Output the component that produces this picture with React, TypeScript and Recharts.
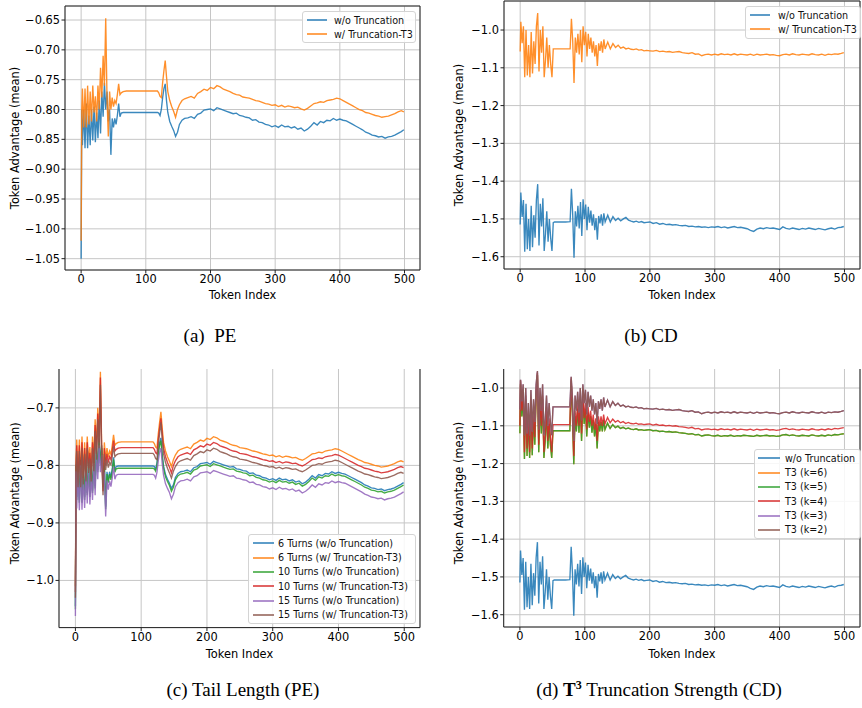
import React from 'react';
import { LineChart, Line, XAxis, YAxis, CartesianGrid, ReferenceArea } from 'recharts';

// ---------- shared ----------
const X_TICKS = [0, 100, 200, 300, 400, 500];
const X_DOMAIN: [number, number] = [-24.95, 523.95];

// ---------- PE token grid (panels a, c) ----------
const PE_TOKENS = [
  0, 1, 2, 4, 6, 8, 10, 12,
  14, 16, 18, 20, 22, 24, 26, 28,
  30, 32, 34, 36, 38, 40, 42, 44,
  46, 48, 50, 52, 54, 56, 58, 60,
  62, 65, 70, 80, 90, 100, 110, 118,
  120, 122, 124, 126, 128, 130, 132, 134,
  137, 140, 143, 146, 149, 152, 156, 160,
  165, 170, 175, 180, 185, 190, 195, 200, 205, 210,
  215, 220, 225, 230, 235, 240, 245, 250, 255, 260,
  265, 270, 275, 280, 285, 290, 295, 300, 305, 310,
  315, 320, 325, 330, 335, 340, 345, 350, 355, 360,
  365, 370, 375, 380, 385, 390, 395, 400, 405, 410,
  415, 420, 425, 430, 435, 440, 445, 450, 455, 460,
  465, 470, 475, 480, 485, 490, 495, 499,
];

// 10 turns without truncation (panel a blue, panel c green)
const PE10_WO = [
  -1.050, -0.800, -0.860, -0.800, -0.865, -0.790, -0.865, -0.810,
  -0.860, -0.800, -0.852, -0.795, -0.855, -0.805, -0.848, -0.785,
  -0.840, -0.770, -0.812, -0.755, -0.800, -0.770, -0.820, -0.800,
  -0.876, -0.815, -0.830, -0.815, -0.825, -0.810, -0.790, -0.812,
  -0.806, -0.805, -0.805, -0.805, -0.805, -0.805, -0.805, -0.805,
  -0.806, -0.810, -0.800, -0.780, -0.765, -0.757, -0.785, -0.805,
  -0.820, -0.828, -0.835, -0.845, -0.838, -0.825, -0.818, -0.815,
  -0.814, -0.812, -0.815, -0.808, -0.806, -0.801, -0.800, -0.799, -0.802, -0.797,
  -0.799, -0.801, -0.803, -0.805, -0.807, -0.806, -0.810, -0.811, -0.813, -0.814,
  -0.818, -0.817, -0.821, -0.822, -0.825, -0.826, -0.829, -0.827, -0.830, -0.826,
  -0.829, -0.828, -0.831, -0.829, -0.833, -0.831, -0.836, -0.833, -0.828, -0.822,
  -0.826, -0.820, -0.822, -0.818, -0.819, -0.815, -0.818, -0.816, -0.818, -0.819,
  -0.822, -0.825, -0.828, -0.831, -0.834, -0.838, -0.840, -0.843, -0.844, -0.846,
  -0.845, -0.848, -0.846, -0.845, -0.843, -0.840, -0.837, -0.834,
];

// 10 turns with Truncation-T3 (panel a orange, panel c red)
const PE10_W = [
  -1.020, -0.800, -0.765, -0.830, -0.765, -0.830, -0.760, -0.825,
  -0.770, -0.820, -0.760, -0.805, -0.778, -0.820, -0.760, -0.800,
  -0.730, -0.780, -0.710, -0.760, -0.647, -0.780, -0.845, -0.770,
  -0.800, -0.780, -0.795, -0.785, -0.790, -0.775, -0.757, -0.775,
  -0.772, -0.770, -0.769, -0.769, -0.769, -0.769, -0.769, -0.769,
  -0.772, -0.778, -0.780, -0.755, -0.735, -0.718, -0.745, -0.770,
  -0.785, -0.795, -0.803, -0.813, -0.800, -0.792, -0.785, -0.782,
  -0.780, -0.778, -0.781, -0.773, -0.770, -0.766, -0.768, -0.763, -0.765, -0.760,
  -0.762, -0.766, -0.768, -0.770, -0.773, -0.775, -0.776, -0.779, -0.780, -0.781,
  -0.783, -0.785, -0.786, -0.788, -0.790, -0.791, -0.793, -0.792, -0.795, -0.793,
  -0.796, -0.794, -0.795, -0.797, -0.796, -0.799, -0.801, -0.798, -0.794, -0.790,
  -0.789, -0.787, -0.788, -0.785, -0.784, -0.783, -0.781, -0.782, -0.785, -0.788,
  -0.791, -0.794, -0.797, -0.800, -0.802, -0.805, -0.806, -0.808, -0.810, -0.811,
  -0.813, -0.812, -0.811, -0.809, -0.807, -0.804, -0.802, -0.804,
];

// 6 turns without truncation
const PE6_WO = [
  -1.045, -0.798, -0.855, -0.796, -0.860, -0.786, -0.860, -0.806,
  -0.855, -0.796, -0.848, -0.791, -0.850, -0.801, -0.844, -0.781,
  -0.836, -0.766, -0.808, -0.752, -0.796, -0.765, -0.816, -0.796,
  -0.872, -0.811, -0.826, -0.811, -0.821, -0.806, -0.786, -0.808,
  -0.802, -0.801, -0.801, -0.801, -0.801, -0.801, -0.801, -0.801,
  -0.802, -0.806, -0.796, -0.776, -0.761, -0.752, -0.781, -0.801,
  -0.816, -0.824, -0.831, -0.840, -0.834, -0.821, -0.814, -0.811,
  -0.810, -0.808, -0.811, -0.804, -0.802, -0.797, -0.796, -0.795, -0.798, -0.793,
  -0.795, -0.797, -0.799, -0.801, -0.803, -0.802, -0.806, -0.807, -0.809, -0.810,
  -0.814, -0.813, -0.817, -0.818, -0.821, -0.822, -0.825, -0.823, -0.826, -0.822,
  -0.825, -0.824, -0.827, -0.825, -0.829, -0.827, -0.832, -0.829, -0.824, -0.818,
  -0.822, -0.816, -0.818, -0.814, -0.815, -0.811, -0.814, -0.812, -0.814, -0.815,
  -0.818, -0.821, -0.824, -0.827, -0.830, -0.834, -0.836, -0.839, -0.840, -0.842,
  -0.841, -0.844, -0.842, -0.841, -0.839, -0.836, -0.833, -0.830,
];

// 6 turns with Truncation-T3
const PE6_W = [
  -1.010, -0.795, -0.755, -0.822, -0.755, -0.822, -0.750, -0.817,
  -0.760, -0.812, -0.750, -0.797, -0.768, -0.812, -0.750, -0.790,
  -0.720, -0.770, -0.700, -0.750, -0.637, -0.770, -0.838, -0.760,
  -0.792, -0.770, -0.786, -0.775, -0.781, -0.765, -0.747, -0.765,
  -0.762, -0.760, -0.759, -0.759, -0.759, -0.759, -0.759, -0.759,
  -0.762, -0.768, -0.770, -0.745, -0.725, -0.707, -0.735, -0.760,
  -0.775, -0.785, -0.793, -0.802, -0.790, -0.782, -0.775, -0.772,
  -0.770, -0.768, -0.771, -0.763, -0.760, -0.756, -0.758, -0.753, -0.755, -0.750,
  -0.752, -0.756, -0.758, -0.760, -0.763, -0.765, -0.766, -0.769, -0.770, -0.771,
  -0.773, -0.775, -0.776, -0.778, -0.780, -0.781, -0.783, -0.782, -0.785, -0.783,
  -0.786, -0.784, -0.785, -0.787, -0.786, -0.789, -0.791, -0.788, -0.784, -0.780,
  -0.779, -0.777, -0.778, -0.775, -0.774, -0.773, -0.771, -0.772, -0.775, -0.778,
  -0.781, -0.784, -0.787, -0.790, -0.792, -0.795, -0.796, -0.798, -0.800, -0.801,
  -0.803, -0.802, -0.801, -0.799, -0.797, -0.794, -0.792, -0.794,
];

// 15 turns without truncation
const PE15_WO = [
  -1.062, -0.810, -0.875, -0.812, -0.878, -0.800, -0.877, -0.822,
  -0.874, -0.812, -0.866, -0.806, -0.868, -0.816, -0.860, -0.796,
  -0.852, -0.780, -0.824, -0.765, -0.812, -0.782, -0.832, -0.812,
  -0.889, -0.826, -0.842, -0.827, -0.837, -0.822, -0.802, -0.824,
  -0.817, -0.8155, -0.8155, -0.8155, -0.8155, -0.8155, -0.8155, -0.8155,
  -0.817, -0.822, -0.812, -0.792, -0.777, -0.770, -0.797, -0.817,
  -0.832, -0.840, -0.847, -0.858, -0.850, -0.837, -0.830, -0.827,
  -0.826, -0.824, -0.827, -0.820, -0.818, -0.813, -0.812, -0.811, -0.814, -0.809,
  -0.811, -0.813, -0.815, -0.817, -0.819, -0.818, -0.822, -0.823, -0.825, -0.826,
  -0.830, -0.829, -0.833, -0.834, -0.837, -0.838, -0.841, -0.839, -0.842, -0.838,
  -0.841, -0.840, -0.843, -0.841, -0.845, -0.843, -0.848, -0.845, -0.840, -0.834,
  -0.838, -0.832, -0.834, -0.830, -0.831, -0.827, -0.830, -0.828, -0.830, -0.831,
  -0.834, -0.837, -0.840, -0.843, -0.846, -0.850, -0.852, -0.855, -0.856, -0.858,
  -0.857, -0.860, -0.858, -0.857, -0.855, -0.852, -0.849, -0.846,
];

// 15 turns with Truncation-T3
const PE15_W = [
  -1.030, -0.805, -0.775, -0.838, -0.775, -0.838, -0.770, -0.833,
  -0.780, -0.828, -0.770, -0.813, -0.788, -0.828, -0.770, -0.810,
  -0.740, -0.790, -0.720, -0.770, -0.660, -0.790, -0.852, -0.780,
  -0.808, -0.790, -0.804, -0.795, -0.799, -0.785, -0.767, -0.785,
  -0.782, -0.780, -0.779, -0.779, -0.779, -0.779, -0.779, -0.779,
  -0.782, -0.788, -0.790, -0.765, -0.745, -0.725, -0.755, -0.780,
  -0.795, -0.805, -0.813, -0.822, -0.810, -0.802, -0.795, -0.792,
  -0.790, -0.788, -0.791, -0.783, -0.780, -0.776, -0.778, -0.773, -0.775, -0.770,
  -0.772, -0.776, -0.778, -0.780, -0.783, -0.785, -0.786, -0.789, -0.790, -0.791,
  -0.793, -0.795, -0.796, -0.798, -0.800, -0.801, -0.803, -0.802, -0.805, -0.803,
  -0.806, -0.804, -0.805, -0.807, -0.806, -0.809, -0.811, -0.808, -0.804, -0.800,
  -0.799, -0.797, -0.798, -0.795, -0.794, -0.793, -0.791, -0.792, -0.795, -0.798,
  -0.801, -0.804, -0.807, -0.810, -0.812, -0.815, -0.816, -0.818, -0.820, -0.821,
  -0.823, -0.822, -0.821, -0.819, -0.817, -0.814, -0.812, -0.814,
];

// ---------- CD token grid (panels b, d) ----------
const CD_TOKENS = [
  0, 1, 3, 5, 7, 9, 11, 13, 15,
  17, 19, 21, 23, 25, 27, 29, 31, 33,
  35, 37, 39, 41, 43, 45, 47, 49, 51,
  53, 60, 70, 77,
  79, 81, 83, 85, 87, 89, 91, 93, 95,
  97, 99, 101, 103, 105, 107, 109, 111, 113,
  115, 117, 119, 121, 123, 125, 127, 129, 131,
  135, 139, 143, 147, 151, 155, 159, 163,
  167, 171, 175, 179, 183, 187, 191, 195,
  200, 205, 210, 215, 220, 225, 230, 235, 240, 245,
  250, 255, 260, 265, 270, 275, 280, 285, 290, 295,
  300, 305, 310, 315, 320, 325, 330, 335, 340, 345,
  350, 355, 360, 365, 370, 375, 380, 385, 390, 395,
  400, 405, 410, 415, 420, 425, 430, 435, 440, 445,
  450, 455, 460, 465, 470, 475, 480, 485, 490, 495,
  499,
];

const CD_WO = [
  -1.515, -1.430, -1.495, -1.450, -1.587, -1.460, -1.580, -1.500, -1.585,
  -1.465, -1.575, -1.490, -1.550, -1.450, -1.408, -1.570, -1.460, -1.520,
  -1.445, -1.585, -1.540, -1.480, -1.560, -1.500, -1.550, -1.585, -1.510,
  -1.508, -1.508, -1.508, -1.507,
  -1.420, -1.490, -1.603, -1.480, -1.520, -1.465, -1.525, -1.455, -1.545,
  -1.448, -1.500, -1.462, -1.530, -1.468, -1.510, -1.478, -1.518, -1.488,
  -1.530, -1.498, -1.555, -1.492, -1.512, -1.488, -1.518, -1.485, -1.508,
  -1.490, -1.508, -1.494, -1.504, -1.498, -1.505, -1.500, -1.496,
  -1.503, -1.506, -1.508, -1.506, -1.509, -1.507, -1.510, -1.509,
  -1.508, -1.512, -1.510, -1.514, -1.512, -1.515, -1.514, -1.516, -1.515, -1.517,
  -1.518, -1.517, -1.520, -1.519, -1.521, -1.520, -1.522, -1.521, -1.523, -1.521,
  -1.522, -1.520, -1.523, -1.521, -1.524, -1.522, -1.520, -1.523, -1.522, -1.524,
  -1.526, -1.530, -1.533, -1.527, -1.524, -1.526, -1.523, -1.525, -1.524, -1.526,
  -1.528, -1.521, -1.525, -1.527, -1.524, -1.526, -1.528, -1.525, -1.527, -1.524,
  -1.526, -1.528, -1.525, -1.527, -1.529, -1.526, -1.524, -1.527, -1.523, -1.522,
  -1.520,
];

const CD_T3 = [
  -1.057, -0.978, -1.035, -0.990, -1.125, -1.000, -1.120, -1.040, -1.125,
  -1.005, -1.115, -1.030, -1.090, -0.990, -0.955, -1.110, -1.000, -1.060,
  -0.990, -1.125, -1.080, -1.020, -1.100, -1.040, -1.090, -1.125, -1.050,
  -1.050, -1.050, -1.050, -1.050,
  -0.970, -1.030, -1.140, -1.020, -1.060, -1.010, -1.065, -1.000, -1.085,
  -0.990, -1.040, -1.005, -1.070, -1.010, -1.050, -1.020, -1.060, -1.030,
  -1.070, -1.040, -1.095, -1.035, -1.055, -1.030, -1.060, -1.025, -1.050,
  -1.032, -1.050, -1.036, -1.046, -1.040, -1.048, -1.045, -1.050,
  -1.048, -1.051, -1.052, -1.050, -1.053, -1.052, -1.055, -1.054,
  -1.055, -1.056, -1.054, -1.057, -1.056, -1.058, -1.057, -1.059, -1.058, -1.057,
  -1.060, -1.061, -1.062, -1.060, -1.064, -1.063, -1.068, -1.065, -1.064, -1.066,
  -1.064, -1.066, -1.063, -1.065, -1.064, -1.066, -1.063, -1.066, -1.064, -1.065,
  -1.066, -1.064, -1.067, -1.064, -1.066, -1.065, -1.064, -1.066, -1.065, -1.067,
  -1.068, -1.065, -1.064, -1.066, -1.063, -1.065, -1.066, -1.064, -1.065, -1.066,
  -1.063, -1.065, -1.066, -1.064, -1.067, -1.064, -1.065, -1.063, -1.064, -1.062,
  -1.060,
];

const CD_K4 = [
  -1.100, -0.980, -1.060, -1.010, -1.170, -1.020, -1.160, -1.070, -1.170,
  -1.030, -1.160, -1.060, -1.130, -1.010, -0.960, -1.150, -1.030, -1.100,
  -1.020, -1.170, -1.120, -1.050, -1.140, -1.080, -1.130, -1.170, -1.097,
  -1.097, -1.097, -1.097, -1.097,
  -0.975, -1.060, -1.180, -1.060, -1.100, -1.040, -1.100, -1.030, -1.120,
  -1.020, -1.080, -1.040, -1.110, -1.050, -1.090, -1.060, -1.100, -1.070,
  -1.110, -1.080, -1.140, -1.075, -1.100, -1.075, -1.100, -1.070, -1.095,
  -1.078, -1.092, -1.082, -1.090, -1.086, -1.092, -1.089, -1.094,
  -1.091, -1.094, -1.095, -1.093, -1.096, -1.095, -1.097, -1.096,
  -1.095, -1.098, -1.096, -1.099, -1.098, -1.100, -1.099, -1.101, -1.100, -1.102,
  -1.103, -1.104, -1.106, -1.104, -1.108, -1.107, -1.111, -1.109, -1.108, -1.110,
  -1.109, -1.111, -1.108, -1.110, -1.109, -1.111, -1.108, -1.111, -1.109, -1.110,
  -1.111, -1.109, -1.112, -1.109, -1.111, -1.110, -1.109, -1.111, -1.110, -1.112,
  -1.111, -1.108, -1.107, -1.110, -1.108, -1.110, -1.111, -1.109, -1.110, -1.111,
  -1.108, -1.110, -1.111, -1.109, -1.111, -1.108, -1.110, -1.107, -1.108, -1.106,
  -1.105,
];

const CD_K5 = [
  -1.120, -0.990, -1.075, -1.020, -1.188, -1.030, -1.180, -1.085, -1.185,
  -1.040, -1.178, -1.075, -1.150, -1.020, -0.965, -1.170, -1.040, -1.120,
  -1.030, -1.185, -1.140, -1.060, -1.160, -1.095, -1.150, -1.185, -1.113,
  -1.113, -1.113, -1.113, -1.113,
  -0.980, -1.075, -1.202, -1.075, -1.115, -1.055, -1.118, -1.045, -1.140,
  -1.030, -1.095, -1.055, -1.128, -1.065, -1.105, -1.075, -1.118, -1.085,
  -1.128, -1.095, -1.160, -1.090, -1.115, -1.090, -1.115, -1.085, -1.110,
  -1.093, -1.107, -1.097, -1.105, -1.101, -1.107, -1.104, -1.108,
  -1.106, -1.109, -1.110, -1.108, -1.111, -1.110, -1.112, -1.111,
  -1.110, -1.113, -1.112, -1.115, -1.114, -1.116, -1.115, -1.117, -1.116, -1.118,
  -1.119, -1.120, -1.122, -1.121, -1.124, -1.123, -1.127, -1.125, -1.124, -1.126,
  -1.127, -1.125, -1.128, -1.126, -1.127, -1.125, -1.128, -1.126, -1.127, -1.125,
  -1.126, -1.127, -1.128, -1.125, -1.127, -1.126, -1.125, -1.127, -1.126, -1.128,
  -1.127, -1.124, -1.123, -1.126, -1.124, -1.126, -1.127, -1.125, -1.126, -1.127,
  -1.124, -1.126, -1.127, -1.125, -1.127, -1.124, -1.126, -1.123, -1.124, -1.122,
  -1.121,
];

// ---------- tick labels ----------
const Y_TICKS_A = [-1.05, -1.0, -0.95, -0.9, -0.85, -0.8, -0.75, -0.7, -0.65];
const Y_TICKS_CD = [-1.6, -1.5, -1.4, -1.3, -1.2, -1.1, -1.0];
const Y_TICKS_C = [-1.0, -0.9, -0.8, -0.7];

const BLUE = '#1f77b4';
const ORANGE = '#ff7f0e';
const GREEN = '#2ca02c';
const RED = '#d62728';
const PURPLE = '#9467bd';
const BROWN = '#8c564b';

const FONT = '"DejaVu Sans", Verdana, sans-serif';

type Series = { key: string; name: string; color: string; values: number[] };

type PanelProps = {
  left: number;
  top: number;
  width: number;
  height: number;
  yAxisW: number;
  tokens: number[];
  series: Series[];
  yDomain: [number, number];
  yTicks: number[];
  dec: number;
  yLabelOffset: number;
  xLabelOffset: number;
};

function Panel(p: PanelProps) {
  const data = p.tokens.map((t, i) => {
    const row: Record<string, number> = { t };
    p.series.forEach((s) => {
      row[s.key] = s.values[i];
    });
    return row;
  });
  const tickStyle = { fill: '#000', fontSize: 11.4, fontFamily: FONT };
  return (
    <div style={{ position: 'absolute', left: p.left, top: p.top }}>
      <LineChart width={p.width} height={p.height} data={data} margin={{ top: 5, right: 2, bottom: 0, left: 0 }}>
        <CartesianGrid stroke="#c6c6c6" strokeWidth={1} />
        <XAxis
          dataKey="t"
          type="number"
          domain={X_DOMAIN}
          ticks={X_TICKS}
          interval={0}
          allowDataOverflow
          height={40}
          axisLine={false}
          tickSize={3.5}
          tickMargin={1.5}
          tickLine={{ stroke: '#222' }}
          tick={tickStyle}
          label={{ value: 'Token Index', position: 'insideBottom', offset: p.xLabelOffset, style: { fill: '#000', fontSize: 11.4, fontFamily: FONT } }}
        />
        <YAxis
          type="number"
          domain={p.yDomain}
          ticks={p.yTicks}
          interval={0}
          allowDataOverflow
          width={p.yAxisW}
          axisLine={false}
          tickSize={3.5}
          tickMargin={1.5}
          tickLine={{ stroke: '#222' }}
          tick={tickStyle}
          tickFormatter={(v: number) => v.toFixed(p.dec).replace('-', '\u2212')}
          label={{
            value: 'Token Advantage (mean)',
            angle: -90,
            position: 'insideLeft',
            offset: p.yLabelOffset,
            style: { textAnchor: 'middle', fill: '#000', fontSize: 11.4, fontFamily: FONT },
          }}
        />
        {p.series.map((s) => (
          <Line
            key={s.key}
            type="linear"
            dataKey={s.key}
            name={s.name}
            stroke={s.color}
            strokeOpacity={0.88}
            strokeWidth={1.35}
            dot={false}
            activeDot={false}
            isAnimationActive={false}
          />
        ))}
        <ReferenceArea
          x1={X_DOMAIN[0]}
          x2={X_DOMAIN[1]}
          y1={p.yDomain[0]}
          y2={p.yDomain[1]}
          fill="none"
          fillOpacity={0}
          stroke="#222"
          strokeWidth={1}
          ifOverflow="visible"
        />
      </LineChart>
    </div>
  );
}

type LegendProps = {
  left: number;
  top: number;
  width: number;
  rowH: number;
  padTop: number;
  padLeft: number;
  sampleW: number;
  gap: number;
  series: Series[];
};

function LegendBox(l: LegendProps) {
  return (
    <div
      style={{
        position: 'absolute',
        left: l.left,
        top: l.top,
        width: l.width,
        boxSizing: 'border-box',
        paddingTop: l.padTop,
        paddingBottom: 1,
        paddingLeft: l.padLeft,
        border: '1px solid #d4d4d4',
        borderRadius: 3,
        background: 'rgba(255,255,255,0.85)',
        fontFamily: FONT,
        fontSize: 9.6,
        color: '#111',
      }}
    >
      {l.series.map((s) => (
        <div key={s.key} style={{ display: 'flex', alignItems: 'center', height: l.rowH, whiteSpace: 'nowrap' }}>
          <svg width={l.sampleW} height={6} style={{ marginRight: l.gap, flex: 'none' }}>
            <line x1={0} y1={3} x2={l.sampleW} y2={3} stroke={s.color} strokeWidth={1.6} strokeOpacity={0.9} />
          </svg>
          <span>{s.name}</span>
        </div>
      ))}
    </div>
  );
}

const captionStyle: React.CSSProperties = {
  position: 'absolute',
  width: 400,
  textAlign: 'center',
  fontFamily: '"Liberation Serif", "Times New Roman", serif',
  fontSize: 19,
  lineHeight: '22px',
  color: '#000',
  whiteSpace: 'pre',
};

export default function App() {
  const seriesA: Series[] = [
    { key: 'wo', name: 'w/o Truncation', color: BLUE, values: PE10_WO },
    { key: 'w', name: 'w/ Truncation-T3', color: ORANGE, values: PE10_W },
  ];
  const seriesB: Series[] = [
    { key: 'wo', name: 'w/o Truncation', color: BLUE, values: CD_WO },
    { key: 'w', name: 'w/ Truncation-T3', color: ORANGE, values: CD_T3 },
  ];
  const seriesC: Series[] = [
    { key: 's6wo', name: '6 Turns (w/o Truncation)', color: BLUE, values: PE6_WO },
    { key: 's6w', name: '6 Turns (w/ Truncation-T3)', color: ORANGE, values: PE6_W },
    { key: 's10wo', name: '10 Turns (w/o Truncation)', color: GREEN, values: PE10_WO },
    { key: 's10w', name: '10 Turns (w/ Truncation-T3)', color: RED, values: PE10_W },
    { key: 's15wo', name: '15 Turns (w/o Truncation)', color: PURPLE, values: PE15_WO },
    { key: 's15w', name: '15 Turns (w/ Truncation-T3)', color: BROWN, values: PE15_W },
  ];
  const seriesD: Series[] = [
    { key: 'wo', name: 'w/o Truncation', color: BLUE, values: CD_WO },
    { key: 'k6', name: 'T3 (k=6)', color: ORANGE, values: CD_K5 },
    { key: 'k5', name: 'T3 (k=5)', color: GREEN, values: CD_K5 },
    { key: 'k4', name: 'T3 (k=4)', color: RED, values: CD_K4 },
    { key: 'k3', name: 'T3 (k=3)', color: PURPLE, values: CD_T3 },
    { key: 'k2', name: 'T3 (k=2)', color: BROWN, values: CD_T3 },
  ];

  return (
    <div style={{ position: 'absolute', left: 0, top: 0, width: 862, height: 708, background: '#fff', overflow: 'hidden' }}>
      {/* (a) */}
      <Panel left={0} top={1} width={422} height={309} yAxisW={65} tokens={PE_TOKENS} series={seriesA}
        yDomain={[-1.069, -0.6265]} yTicks={Y_TICKS_A} dec={2} yLabelOffset={15} xLabelOffset={11} />
      <LegendBox left={302} top={11} width={114} rowH={14} padTop={1} padLeft={4} sampleW={20} gap={7} series={seriesA} />

      {/* (b) */}
      <Panel left={431} top={-4} width={431} height={313} yAxisW={73} tokens={CD_TOKENS} series={seriesB}
        yDomain={[-1.6325, -0.9232]} yTicks={Y_TICKS_CD} dec={1} yLabelOffset={28} xLabelOffset={10} />
      <LegendBox left={745} top={6} width={116} rowH={14.3} padTop={1} padLeft={4} sampleW={20} gap={8} series={seriesB} />

      {/* bottom row, clipped at top */}
      <div style={{ position: 'absolute', left: 0, top: 369, width: 862, height: 339, overflow: 'hidden' }}>
        <Panel left={0} top={353.7 - 369} width={422} height={313.6} yAxisW={59} tokens={PE_TOKENS} series={seriesC}
          yDomain={[-1.082, -0.615]} yTicks={Y_TICKS_C} dec={1} yLabelOffset={14.5} xLabelOffset={10} />
        <Panel left={431} top={354.3 - 369} width={431} height={313} yAxisW={72.7} tokens={CD_TOKENS} series={seriesD}
          yDomain={[-1.6325, -0.9232]} yTicks={Y_TICKS_CD} dec={1} yLabelOffset={28} xLabelOffset={9} />
      </div>
      <LegendBox left={248} top={534} width={168} rowH={14.35} padTop={1} padLeft={4} sampleW={21} gap={4} series={seriesC} />
      <LegendBox left={754} top={449} width={107} rowH={14.35} padTop={1} padLeft={3} sampleW={22} gap={5} series={seriesD} />

      {/* captions */}
      <div style={{ ...captionStyle, left: 210 - 200, top: 325 }}>(a)  PE</div>
      <div style={{ ...captionStyle, left: 651 - 200, top: 325 }}>(b) CD</div>
      <div style={{ ...captionStyle, left: 243 - 200, top: 679 }}>(c) Tail Length (PE)</div>
      <div style={{ ...captionStyle, left: 659 - 200, top: 679 }}>
        (d) <b style={{ fontWeight: 700 }}>T</b>
        <sup style={{ fontSize: 12, fontWeight: 700, lineHeight: 0 }}>3</sup> Truncation Strength (CD)
      </div>
    </div>
  );
}
